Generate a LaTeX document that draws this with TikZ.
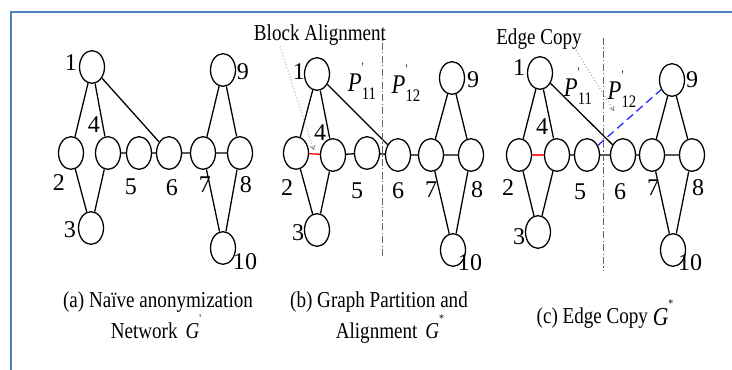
\documentclass[tikz,border=0pt]{standalone}
\usepackage{fontspec}
\setmainfont{Liberation Serif}
\usetikzlibrary{shapes.geometric,arrows.meta,calc}
\definecolor{framebl}{HTML}{4F81BD}
% condensed text, as set in the figure
\newcommand{\sqz}[1]{\scalebox{0.84}[1]{#1}}
% partition label P'_{ij}
\newcommand{\Plab}[1]{\sqz{{\fontsize{23}{25}\selectfont\textit{P}}\rlap{\raisebox{0.85em}{\fontsize{11}{11}\selectfont\textquotesingle}}\raisebox{-0.3em}{\fontsize{15}{15}\selectfont #1}}}
% graph name with a small superscript
\newcommand{\Gname}[1]{\textit{G}\raisebox{0.7em}{\fontsize{10}{10}\selectfont #1}}
\begin{document}
\begin{tikzpicture}[x=0.03cm,y=-0.03cm,>={To[length=4pt,width=5pt]},
	vtx/.style={ellipse,draw,line width=1.1pt,minimum width=0.75cm,minimum height=0.98cm,inner sep=0pt},
	num/.style={font=\fontsize{20.5}{23}\selectfont,inner sep=0pt},
	capt/.style={font=\fontsize{19.4}{23}\selectfont,inner sep=0pt,anchor=base},
	part/.style={gray!80!black,line width=0.6pt,dash pattern=on 6pt off 2pt on 1pt off 2pt},
	pointer/.style={->,gray,dotted,line width=0.7pt}]
	\useasboundingbox (0,0) rectangle (732,370);
	\draw[framebl,line width=1.7pt] (11,372)--(11,12)--(734,12);
	\begin{scope}[line width=1.1pt]
	% (a) naive anonymization
	\path (92,67)node[vtx](a1){} (71,153)node[vtx](a2){} (91,228)node[vtx](a3){}
	(108,153)node[vtx](a4){} (139,153)node[vtx](a5){} (169,153)node[vtx](a6){}
	(203,153)node[vtx](a7){} (240,153)node[vtx](a8){} (223,70)node[vtx](a9){}
	(223,248)node[vtx](a10){};
	\draw (a1)--(a2) (a1)--(a4) (a1)--(a6) (a2)--(a3) (a4)--(a3) (a4)--(a5)
	(a5)--(a6) (a6)--(a7) (a7)--(a8) (a7)--(a9) (a8)--(a9) (a7)--(a10) (a8)--(a10);
	\path (71,63)node[num]{1} (59,183)node[num]{2} (70,230)node[num]{3}
	(94,125)node[num]{4} (131,187)node[num]{5} (172,188)node[num]{6}
	(205,185)node[num]{7} (246,185)node[num]{8} (243,72)node[num]{9}
	(245,262)node[num]{10};
	\node[capt] at (158,307) {\sqz{(a) Naïve anonymization}};
	\node[capt] at (156,338) {\sqz{Network~\,\Gname{\textquotesingle}}};
	% (b) partition and alignment
	\path (317,74)node[vtx](b1){} (296,153)node[vtx](b2){} (317,230)node[vtx](b3){}
	(333,155)node[vtx](b4){} (367,153)node[vtx](b5){} (398,155)node[vtx](b6){}
	(431,155)node[vtx](b7){} (471,155)node[vtx](b8){} (452,78)node[vtx](b9){}
	(453,250)node[vtx](b10){};
	\draw (b1)--(b2) (b1)--(b4) (b1)--(b6) (b2)--(b3) (b4)--(b3) (b4)--(b5)
	(b5)--(b6) (b6)--(b7) (b7)--(b8) (b7)--(b9) (b8)--(b9) (b7)--(b10) (b8)--(b10);
	\draw[red] (b2)--(b4);
	\draw[part] (382,30)--(382,257);
	\path (299,72)node[num]{1} (287,188)node[num]{2} (298,233)node[num]{3}
	(320,133)node[num]{4} (357,191)node[num]{5} (398,191)node[num]{6}
	(431,190)node[num]{7} (477,190)node[num]{8} (473,80)node[num]{9}
	(470,263)node[num]{10};
	\path (362,81)node[num]{\Plab{11}} (406,83)node[num]{\Plab{12}};
	\node[capt] (blk) at (320,41) {\sqz{Block Alignment}};
	\coordinate (btip) at (314,150);
	\draw[pointer] ($(blk.south west)!0.2!(blk.south east)$)--(btip);
	\node[capt] at (379,307) {\sqz{(b) Graph Partition and}};
	\node[capt] at (390,338) {\sqz{Alignment~\,\Gname{*}}};
	% (c) edge copy
	\path (540,73)node[vtx](c1){} (519,155)node[vtx](c2){} (538,232)node[vtx](c3){}
	(557,155)node[vtx](c4){} (587,155)node[vtx](c5){} (623,155)node[vtx](c6){}
	(652,155)node[vtx](c7){} (692,155)node[vtx](c8){} (672,80)node[vtx](c9){}
	(673,250)node[vtx](c10){};
	\draw (c1)--(c2) (c1)--(c4) (c1)--(c6) (c2)--(c3) (c4)--(c3) (c4)--(c5)
	(c5)--(c6) (c6)--(c7) (c7)--(c8) (c7)--(c9) (c8)--(c9) (c7)--(c10) (c8)--(c10);
	\draw[red!80] (c2)--(c4);
	\draw[blue!85,dash pattern=on 7pt off 4pt] (c5)--(c9);
	\draw[part] (603,38)--(603,270);
	\path (519,68)node[num]{1} (508,188)node[num]{2} (519,237)node[num]{3}
	(542,127)node[num]{4} (580,192)node[num]{5} (620,192)node[num]{6}
	(653,188)node[num]{7} (698,188)node[num]{8} (692,80)node[num]{9}
	(690,263)node[num]{10};
	\path (578,86)node[num]{\Plab{11}} (622,89)node[num]{\Plab{12}};
	\node[capt] (ecp) at (539,45) {\sqz{Edge Copy}};
	\coordinate (ctip) at (614,111);
	\draw[pointer] ($(ecp.south west)!0.93!(ecp.south east)$)--(ctip);
	\node[capt] at (605,323) {\sqz{(c) Edge Copy \raisebox{-2pt}{\fontsize{22}{24}\selectfont\Gname{*}}}};
	\end{scope}
\end{tikzpicture}
\end{document}
